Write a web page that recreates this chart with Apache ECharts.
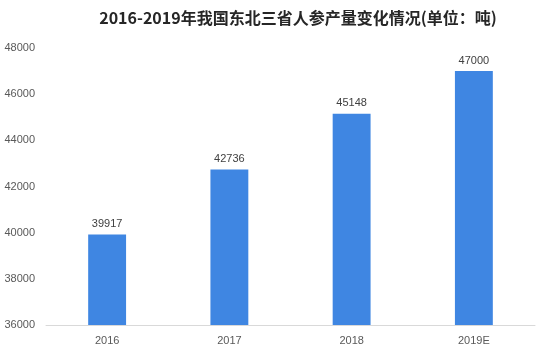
<!DOCTYPE html>
<html>
<head>
<meta charset="utf-8">
<script src="https://cdn.jsdelivr.net/npm/echarts@6/dist/echarts.min.js"></script>
<style>html,body{margin:0;padding:0;background:#fff;}#c{width:544px;height:350px;}</style>
</head>
<body>
<div id="c"></div>
<script>
const categories = ['2016', '2017', '2018', '2019E'];
const production = [39917, 42736, 45148, 47000];
const yTicks = [36000, 38000, 40000, 42000, 44000, 46000, 48000];

const chart = echarts.init(document.getElementById('c'), null, {renderer: 'canvas'});
chart.setOption({
  animation: false,
  backgroundColor: '#ffffff',
  title: {
    text: '2016-2019年我国东北三省人参产量变化情况(单位：吨)',
    left: 293,
    textAlign: 'center',
    top: 5,
    textStyle: {fontSize: 16, fontWeight: 'bold', color: '#262626', fontFamily: '"Noto Sans CJK SC", sans-serif'}
  },
  grid: {left: 46, right: 9, top: 48, bottom: 25, containLabel: false},
  xAxis: {
    type: 'category',
    data: categories,
    axisLine: {lineStyle: {color: '#d9d9d9'}},
    axisTick: {show: false},
    axisLabel: {color: '#595959', fontSize: 11, margin: 10, fontFamily: 'Arial, "Liberation Sans", sans-serif'}
  },
  yAxis: {
    type: 'value',
    min: yTicks[0],
    max: yTicks[yTicks.length - 1],
    interval: 2000,
    splitLine: {show: false},
    axisLine: {show: false},
    axisTick: {show: false},
    axisLabel: {color: '#595959', fontSize: 11, margin: 11, formatter: v => String(v), fontFamily: 'Arial, "Liberation Sans", sans-serif'}
  },
  series: [{
    type: 'bar',
    data: production,
    barWidth: '31%',
    itemStyle: {color: '#3f86e2'},
    label: {show: true, position: 'top', distance: 5, color: '#404040', fontSize: 11, fontFamily: 'Arial, "Liberation Sans", sans-serif'}
  }]
});
</script>
</body>
</html>
